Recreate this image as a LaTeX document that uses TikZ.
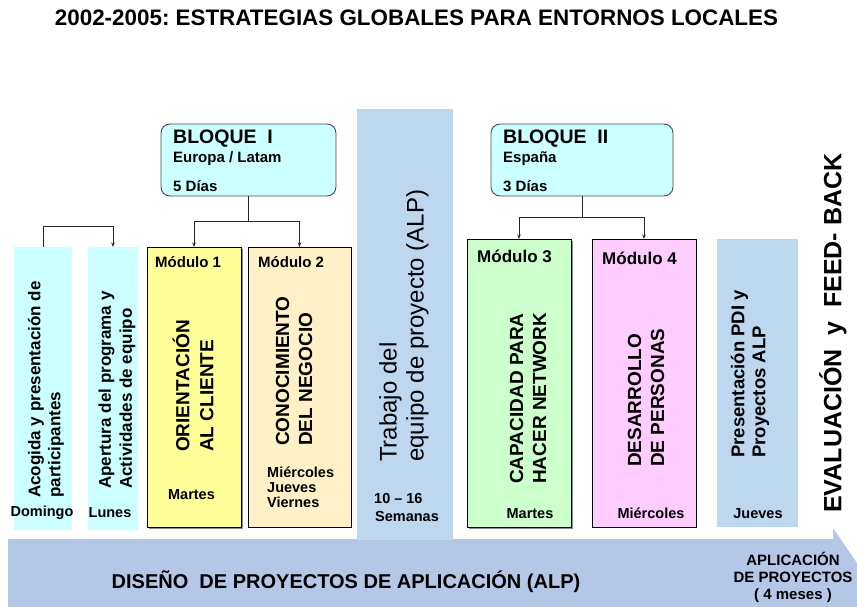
\documentclass[tikz,border=0pt]{standalone}
\usepackage{fontspec}
\setmainfont{Liberation Sans}
\usetikzlibrary{arrows.meta}
\frenchspacing
\definecolor{cyanl}{HTML}{CCFFFF}
\definecolor{yell}{HTML}{FFFF99}
\definecolor{peach}{HTML}{FFF0C8}
\definecolor{greenl}{HTML}{CCFFCC}
\definecolor{pinkl}{HTML}{FFCCFF}
\definecolor{bluecol}{HTML}{BDD7EE}
\definecolor{arrowc}{HTML}{B4C7E7}
\newcommand\myfs[2]{\fontsize{#1}{#2}\selectfont}
\tikzset{
  rect/.style={anchor=north west, inner sep=0pt, outer sep=0pt},
  modbox/.style={rect, draw=black, line width=0.9pt},
  bloque/.style={rect, draw=black!70, line width=0.9pt, fill=cyanl, rounded corners=9pt},
  conn/.style={line width=0.8pt, draw=black!85},
  arr/.style={conn, -{Stealth[length=4.5pt,width=3.5pt]}},
  rot/.style={rotate=90, anchor=west, inner sep=0pt, align=left},
  daylbl/.style={inner sep=0pt, font=\bfseries\myfs{14.5}{15}},
  modlbl/.style={inner sep=0pt, anchor=base west, font=\bfseries\myfs{#1}{#1}},
}
\begin{document}
\begin{tikzpicture}[x=1pt,y=-1pt]
\useasboundingbox (0,0) rectangle (857,607);
% title
\node[inner sep=0pt, font=\bfseries\myfs{22.4}{26}] (title) at (416.5,18) {\frenchspacing 2002-2005: ESTRATEGIAS GLOBALES PARA ENTORNOS LOCALES};
% bottom arrow
\fill[arrowc] (8,539) -- (833,539) -- (833,528) -- (857,563) -- (857,607) -- (8,607) -- cycle;
% trabajo column
\node[rect, fill=bluecol, minimum width=96pt, minimum height=431pt] (tr) at (357,109) {};
% bloques
\node[bloque, minimum width=175pt, minimum height=72pt] (b1) at (161,124) {};
\node[bloque, minimum width=182pt, minimum height=72pt] (b2) at (491,124) {};
% left boxes
\node[rect, fill=cyanl, minimum width=58pt, minimum height=283pt] (ac) at (14,247) {};
\node[rect, fill=cyanl, minimum width=50pt, minimum height=283pt] (ap) at (88,247) {};
% shadows
\fill[black!45] (149,249) rectangle (243,529);
\fill[black!45] (469,241) rectangle (573,529);
% modules
\node[modbox, fill=yell, minimum width=94pt, minimum height=280pt] (m1) at (147,247) {};
\node[modbox, fill=peach, minimum width=103pt, minimum height=280pt] (m2) at (248,247) {};
\node[modbox, fill=greenl, minimum width=104pt, minimum height=288pt] (m3) at (467,239) {};
\node[modbox, fill=pinkl, minimum width=104pt, minimum height=288pt] (m4) at (592,239) {};
\node[rect, fill=bluecol, minimum width=81pt, minimum height=288pt] (pr) at (717,239) {};
% connectors
\draw[conn] (b1.south) -- ++(0,25) coordinate (j1);
\draw[arr] (j1) -| (m1.north);
\draw[arr] (j1) -| (m2.north);
\draw[conn] (b2.south) -- ++(0,21) coordinate (j2);
\draw[arr] (j2) -| (m3.north);
\draw[arr] (j2) -| (m4.north);
\draw[arr] (ac.north) -- ++(0,-21) -| (ap.north);
% bloque texts
\node[inner sep=0pt, anchor=base west, font=\bfseries\myfs{19.5}{20}] (b1t) at (173,144) {BLOQUE\ \ I};
\node[inner sep=0pt, anchor=base west, font=\bfseries\myfs{15}{15}] (b1s) at (173,163) {Europa / Latam};
\node[inner sep=0pt, anchor=base west, font=\bfseries\myfs{15}{15}] (b1d) at (173,191) {5 Días};
\node[inner sep=0pt, anchor=base west, font=\bfseries\myfs{19.5}{20}] (b2t) at (503,144) {BLOQUE\ \ II};
\node[inner sep=0pt, anchor=base west, font=\bfseries\myfs{15}{15}] (b2s) at (503,163) {España};
\node[inner sep=0pt, anchor=base west, font=\bfseries\myfs{15}{15}] (b2d) at (503,191) {3 Días};
% module labels
\node[modlbl=15] (m1l) at (155,267) {Módulo 1};
\node[modlbl=15] (m2l) at (258,267) {Módulo 2};
\node[modlbl=17] (m3l) at (477,262) {Módulo 3};
\node[modlbl=17] (m4l) at (602,264) {Módulo 4};
% rotated texts
\node[rot, font=\bfseries\myfs{17}{20}] (tac) at (46,498) {Acogida y presentación de\\participantes};
\node[rot, font=\bfseries\myfs{17}{21}] (tap) at (117,489) {Apertura del programa y\\Actividades de equipo};
\node[rot, font=\bfseries\myfs{19}{24}] (tm1) at (193,452) {ORIENTACIÓN\\AL CLIENTE};
\node[rot, font=\bfseries\myfs{19}{23}] (tm2) at (294,446) {CONOCIMIENTO\\DEL NEGOCIO};
\node[rot, font=\myfs{24}{27}] (ttr) at (404,462) {Trabajo del\\equipo de proyecto (ALP)};
\node[rot, font=\bfseries\myfs{19}{23}] (tm3) at (528,484) {CAPACIDAD PARA\\HACER NETWORK};
\node[rot, font=\bfseries\myfs{19}{23}] (tm4) at (646,467) {DESARROLLO\\DE PERSONAS};
\node[rot, font=\bfseries\myfs{18.5}{21}] (tpr) at (750,458) {Presentación PDI y\\Proyectos ALP};
\node[rot, font=\bfseries\myfs{25}{28}] (tev) at (833,513) {EVALUACIÓN\ \ y\ \ FEED- BACK};
% day labels
\node[daylbl, anchor=base] (d1) at (42,516) {Domingo};
\node[daylbl, anchor=base] (d2) at (110,517) {Lunes};
\node[daylbl, anchor=base] (d3) at (191.5,499) {Martes};
\node[daylbl, anchor=base west, align=left, font=\bfseries\myfs{14.5}{15}] (d4) at (267,507) {Miércoles\\Jueves\\Viernes};
\node[daylbl, anchor=base west, align=left, font=\bfseries\myfs{14.5}{18}] (d5) at (374,521) {10 – 16\\\hspace*{1pt}Semanas};
\node[daylbl, anchor=base] (d6) at (530,518) {Martes};
\node[daylbl, anchor=base] (d7) at (651,518) {Miércoles};
\node[daylbl, anchor=base] (d8) at (758,518) {Jueves};
% arrow texts
\node[inner sep=0pt, anchor=base, font=\bfseries\myfs{20}{22}] (diseno) at (346,588) {DISEÑO\ \ DE PROYECTOS DE APLICACIÓN (ALP)};
\node[inner sep=0pt, anchor=base, align=center, font=\bfseries\myfs{15}{17}] (aplic) at (793,599) {APLICACIÓN\\DE PROYECTOS\\( 4 meses )};
\end{tikzpicture}
\end{document}
